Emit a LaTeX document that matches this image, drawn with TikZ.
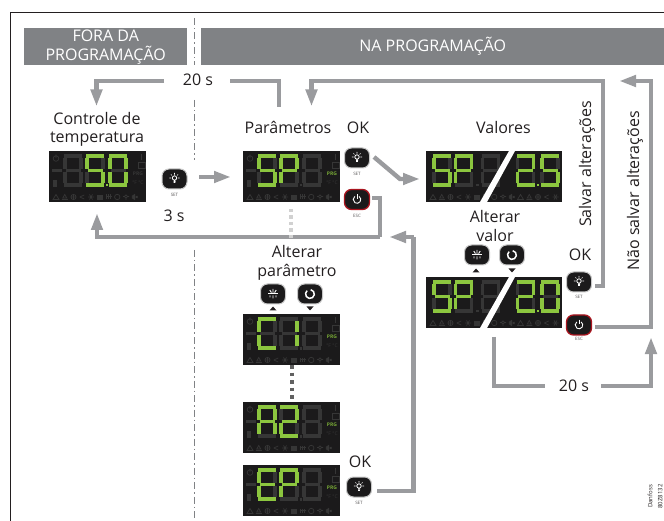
\documentclass[tikz,border=0pt]{standalone}
\usepackage{fontspec}
\setmainfont{Open Sans}
\usetikzlibrary{arrows.meta,calc}
\definecolor{bandc}{HTML}{808285}
\definecolor{flowc}{HTML}{9A9B9E}
\definecolor{inkc}{HTML}{231F20}
\definecolor{lcdc}{HTML}{1B1A1B}
\definecolor{dimc}{HTML}{363636}
\definecolor{litc}{HTML}{8CC63F}
\definecolor{escc}{HTML}{A8141E}
\tikzset{
  band/.style={fill=bandc,inner sep=0pt,anchor=north west},
  bandtext/.style={text=white,font=\fontsize{16}{19}\selectfont,align=center},
  lbl/.style={text=inkc,font=\fontsize{16}{18.5}\selectfont,align=center,inner sep=0pt},
  flow/.style={draw=flowc,line width=4.4pt,line join=miter},
  flowtip/.style={flow,-{Triangle[length=17pt,width=11pt]}},
  lcdbox/.style={fill=lcdc,inner sep=0pt,anchor=north west,minimum height=51pt},
  btn/.style={fill=lcdc,draw=black!22,line width=1pt,rounded corners=7pt,minimum width=25pt,minimum height=20pt,inner sep=0pt},
  btnesc/.style={btn,draw=escc,line width=1.3pt},
  btncap/.style={text=inkc!75,font=\fontsize{4.5}{6}\selectfont,inner sep=0pt},
  dimst/.style={draw=dimc,line width=.7pt},
  iconst/.style={draw=white,line width=.8pt},
  arrowmark/.style={fill=inkc,draw=none}
}
\newcommand{\onesegment}[1]{%
  \ifx#1a\draw (0.5,1.8)--(18.5,1.8);\fi
  \ifx#1b\draw (17.6,4)--(17.6,15);\fi
  \ifx#1c\draw (17.6,18)--(17.6,29);\fi
  \ifx#1d\draw (0.5,31.2)--(18.5,31.2);\fi
  \ifx#1e\draw (1.4,18)--(1.4,29);\fi
  \ifx#1f\draw (1.4,4)--(1.4,15);\fi
  \ifx#1g\draw (2,16.5)--(17,16.5);\fi}
\newcommand{\digitat}[3]{%
  \begin{scope}[shift={(#1,#2)},line width=3.6pt]
    \begin{scope}[draw=dimc]
      \foreach \sg in {a,b,c,d,e,f,g}{\expandafter\onesegment\expandafter{\sg}}
    \end{scope}
    \begin{scope}[draw=litc]
      \foreach \sg in {#3}{\expandafter\onesegment\expandafter{\sg}}
    \end{scope}
  \end{scope}}
\newcommand{\lcdicon}[1]{%
  \ifcase#1\relax
    \draw[dimst] (-3,2.5)--(0,-2.5)--(3,2.5)--cycle;
  \or \draw[dimst] (-3,2.5)--(3,2.5) (-2,1)--(0,-2.5)--(2,1)--cycle;
  \or \draw[dimst] (0,0) circle (2.6pt) (-2.6,0)--(2.6,0) (0,-2.6)--(0,2.6);
  \or \draw[dimst] (-2.5,0)--(2,-2) (-2.5,0)--(2,2);
  \or \draw[dimst] (-3,0)--(3,0) (-1.5,-2.6)--(1.5,2.6) (-1.5,2.6)--(1.5,-2.6);
  \or \draw[dimst,fill=dimc] (-2.5,-1.5) rectangle (2.5,2.5);
  \or \draw[dimst] (-3,-1)--(3,-1) (-2,2)--(-2,-2.5) (0,2)--(0,-2.5) (2,2)--(2,-2.5);
  \or \draw[dimst] (0,0) circle (2.7pt);
  \or \draw[dimst] (0,-.5) circle (1.7pt) (0,1.2)--(0,2.8) (-3,-.5)--(-2,-.5) (2,-.5)--(3,-.5);
  \or \draw[dimst,fill=dimc] (-2.5,-1)--(0,-2.6)--(0,2.6)--(-2.5,1)--cycle (1.2,-1)--(2.8,1) (1.2,1)--(2.8,-1);
  \fi}
\newcommand{\lcdrow}[3]{% x, y of box, number of icons
  \foreach \ic [evaluate=\ic as \ix using {#1+7+8.75*\ic}] in {0,...,#3}{%
    \pgfmathtruncatemacro{\icm}{mod(\ic,10)}%
    \begin{scope}[shift={(\ix,#2+46)}]\lcdicon{\icm}\end{scope}}}
\newcommand{\lcdsingle}[7]{% name x y d1 d2 d3 prgcolour
  \node[lcdbox,minimum width=97pt] (#1) at (#2,#3) {};
  \digitat{#2+14.5}{#3+3}{#4}
  \digitat{#2+36.5}{#3+3}{#5}
  \digitat{#2+59.5}{#3+3}{#6}
  \fill[dimc] (#2+2.5,#3+17.8) rectangle (#2+12.5,#3+21);
  \fill[dimc] (#2+3.5,#3+29) rectangle (#2+8,#3+36);
  \draw[dimst] (#2+7,#3+7.5) circle (2.8pt) (#2+7,#3+3.5)--(#2+7,#3+7);
  \draw[dimst] (#2+89,#3+11.5) rectangle (#2+96,#3+17.5);
  \draw[dimst] (#2+92.5,#3+3)--(#2+92.5,#3+9);
  \node[inner sep=0pt,text=#7,font=\bfseries\fontsize{5}{6}\selectfont] (#1prg) at (#2+89,#3+23) {PRG};
  \node[inner sep=0pt,text=dimc,font=\fontsize{5}{6}\selectfont] (#1deg) at (#2+89,#3+32) {°F °C};
  \fill[dimc] (#2+56.5,#3+33) rectangle (#2+59,#3+35.5);
  \lcdrow{#2}{#3}{9}}
\newcommand{\lcddouble}[3]{% name y last digit
  \node[lcdbox,minimum width=136pt] (#1) at (426,#2) {};
  \digitat{432.5}{#2+3}{a,f,g,c,d}
  \digitat{454}{#2+3}{a,b,f,g,e}
  \digitat{481}{#2+3}{}
  \digitat{516}{#2+3}{a,b,g,e,d}
  \digitat{540.5}{#2+3}{#3}
  \fill[litc] (536.5,#2+33) rectangle (539,#2+35.5);
  \fill[dimc] (476,#2+33) rectangle (478.5,#2+35.5);
  \lcdrow{426}{#2}{14}
  \fill[white] (509,#2)--(515,#2)--(487,#2+51)--(480,#2+51)--cycle;}
\newcommand{\bulbicon}[2]{\begin{scope}[shift={(#1,#2)}]
  \draw[iconst] (0,-1) circle (2.2pt) (-1,2.2)--(1,2.2) (-.8,3.4)--(.8,3.4);
  \draw[iconst,line width=.6pt] (0,-6)--(0,-4.4) (-3.6,-4.6)--(-2.6,-3.6) (3.6,-4.6)--(2.6,-3.6) (-5.2,-1)--(-3.4,-1) (5.2,-1)--(3.4,-1);
  \end{scope}}
\newcommand{\powericon}[2]{\begin{scope}[shift={(#1,#2)}]
  \draw[white,line width=.9pt] (2.1,-3.1) arc[start angle=-56,end angle=236,radius=3.8];
  \draw[white,line width=.9pt] (0,-5.4)--(0,-.6);
  \end{scope}}
\newcommand{\freezeicon}[2]{\begin{scope}[shift={(#1,#2)}]
  \draw[white,line width=1.1pt] (-5,-.5)--(5,-.5);
  \draw[white,line width=.9pt] (0,-5)--(0,-1) (-3.2,-4)--(-1.6,-1.4) (3.2,-4)--(1.6,-1.4) (-3,1.5)--(-3,3.5) (0,1.5)--(0,4.5) (3,1.5)--(3,3.5);
  \end{scope}}
\newcommand{\cycleicon}[2]{\begin{scope}[shift={(#1,#2)}]
  \draw[white,line width=1.5pt] (0.7,-4.3) arc[start angle=-80,end angle=230,radius=4.4];
  \end{scope}}
\begin{document}
\begin{tikzpicture}[x=1pt,y=-1pt]
\useasboundingbox (0,0) rectangle (664,521);
% frame
\draw[draw=inkc,line width=.9pt] (10,521)--(10,12.5)--(664,12.5);
% divider
\draw[draw=bandc,line width=.8pt,dash pattern=on 7pt off 3pt on 1.5pt off 3pt] (194,18)--(194,65);
\draw[draw=bandc,line width=.8pt,dash pattern=on 7pt off 3pt on 1.5pt off 3pt] (194,100)--(194,160);
\draw[draw=bandc,line width=.8pt,dash pattern=on 7pt off 3pt on 1.5pt off 3pt] (194,250)--(194,518);
% bands
\node[band,minimum width=163pt,minimum height=37pt,bandtext] (fora) at (24,28) {FORA DA\\PROGRAMAÇÃO};
\node[band,minimum width=463pt,minimum height=37pt,bandtext] (na) at (201,28) {NA PROGRAMAÇÃO};
% displays
\lcdsingle{dtemp}{49}{151}{}{a,f,g,c,d}{a,b,c,d,e,f}{dimc}
\fill[litc] (105.5,184) rectangle (108,186.5);
\lcdsingle{dsp}{243}{151}{a,f,g,c,d}{a,b,f,g,e}{}{litc!85!black}
\lcdsingle{dca}{243}{314}{a,f,e,d}{b,c}{}{litc!85!black}
\lcdsingle{daz}{243}{402}{a,b,c,e,f,g}{a,b,g,e,d}{}{litc!85!black}
\lcdsingle{dep}{243}{465}{a,f,g,e,d}{a,b,f,g,e}{}{litc!85!black}
\lcddouble{dval}{151}{a,f,g,c,d}
\lcddouble{dnew}{277}{a,b,c,d,e,f}
% buttons
\node[btn] (bset) at (174.5,179) {}; \bulbicon{174.5}{179}
\node[btncap] (bsetc) at (174.5,195) {SET};
\node[btn] (aset) at (357,158) {}; \bulbicon{357}{158}
\node[btncap] (asetc) at (357,174) {SET};
\node[btnesc] (aesc) at (357,199.5) {}; \powericon{357}{199.5}
\node[btncap] (aescc) at (357,216) {ESC};
\node[btn] (pup) at (273,294) {}; \freezeicon{273}{294}
\node[btn] (pdn) at (310,294) {}; \cycleicon{310}{294}
\node[btn] (vup) at (477,255) {}; \freezeicon{477}{255}
\node[btn] (vdn) at (512,255) {}; \cycleicon{512}{255}
\node[btn] (eset) at (359,487) {}; \bulbicon{359}{487}
\node[btncap] (esetc) at (359,503) {SET};
\node[btn] (rset) at (579,282) {}; \bulbicon{579}{282}
\node[btncap] (rsetc) at (579,297) {SET};
\node[btnesc] (resc) at (579,325) {}; \powericon{579}{325}
\node[btncap] (rescc) at (579,339) {ESC};
% small triangles
\fill[arrowmark] (273,306.5)--(276.5,310.5)--(269.5,310.5)--cycle;
\fill[arrowmark] (310,310.5)--(313.5,306.5)--(306.5,306.5)--cycle;
\fill[arrowmark] (476,268.5)--(479.5,272.5)--(472.5,272.5)--cycle;
\fill[arrowmark] (512,272.5)--(515.5,268.5)--(508.5,268.5)--cycle;
% labels
\node[lbl] (t20a) at (198,80) {20 s};
\node[lbl] (tctrl) at (97,129.5) {Controle de\\temperatura};
\node[lbl] (tparam) at (288,127.5) {Parâmetros};
\node[lbl] (tok1) at (358,127.5) {OK};
\node[lbl] (tval) at (503.5,127.5) {Valores};
\node[lbl] (t3s) at (174,216) {3 s};
\node[lbl] (talv) at (495,226) {Alterar\\valor};
\node[lbl] (talp) at (297,263) {Alterar\\parâmetro};
\node[lbl] (tok2) at (360,462) {OK};
\node[lbl] (tok3) at (580,255) {OK};
\node[lbl] (t20b) at (574,386) {20 s};
\node[lbl,rotate=90] (tsalv) at (587,164) {Salvar alterações};
\node[lbl,rotate=90] (tnao) at (635,191) {Não salvar alterações};
\node[text=inkc,rotate=90,align=center,inner sep=0pt,font=\fontsize{6}{10}\selectfont] (tid) at (655,496.5) {Danfoss\\80Z8132};
% connector ends
\coordinate (a1) at (164,81); \coordinate (a2) at (96.5,106.5);
\coordinate (b1) at (230,81); \coordinate (b2) at (279,107);
\coordinate (c1) at (595,286); \coordinate (c2) at (603,81); \coordinate (c3) at (311.5,106.5);
\coordinate (d1) at (595,327); \coordinate (d2) at (651,81); \coordinate (d3) at (619,81);
\coordinate (e1) at (494,337); \coordinate (e2) at (545,386);
\coordinate (f1) at (601,386); \coordinate (f2) at (651,337);
\coordinate (g1) at (199,177); \coordinate (g2) at (231,177);
\coordinate (h1) at (374,157); \coordinate (h2) at (400,179); \coordinate (h3) at (420,179);
\coordinate (i1) at (372,198); \coordinate (i2) at (380,237); \coordinate (i3) at (97,213);
\coordinate (j1) at (377,491); \coordinate (j2) at (413.5,237); \coordinate (j3) at (389,237);
\coordinate (k1) at (291,209); \coordinate (k2) at (291,240);
\coordinate (m1) at (292,365); \coordinate (m2) at (292,401);
% connectors
\draw[flowtip] (a1) -| (a2);
\draw[flow] (b1) -| (b2);
\draw[flowtip] (c1) -| (c2) -| (c3);
\draw[flowtip] (d1) -| (d2) -- (d3);
\draw[flow] (e1) |- (e2);
\draw[flowtip] (f1) -| (f2);
\draw[flowtip] (g1) -- (g2);
\draw[flowtip] (h1) -- (h2) -- (h3);
\draw[flow] (i1) -| (i2);
\draw[flowtip] (i2) -| (i3);
\draw[flow] (j1) -| (j2);
\draw[flowtip] (j2) -- (j3);
\draw[draw=black!18,line width=4pt,dash pattern=on 3.5pt off 3pt] (k1)--(k2);
\draw[draw=black!62,line width=4pt,dash pattern=on 3.5pt off 4pt] (m1)--(m2);
\end{tikzpicture}
\end{document}
